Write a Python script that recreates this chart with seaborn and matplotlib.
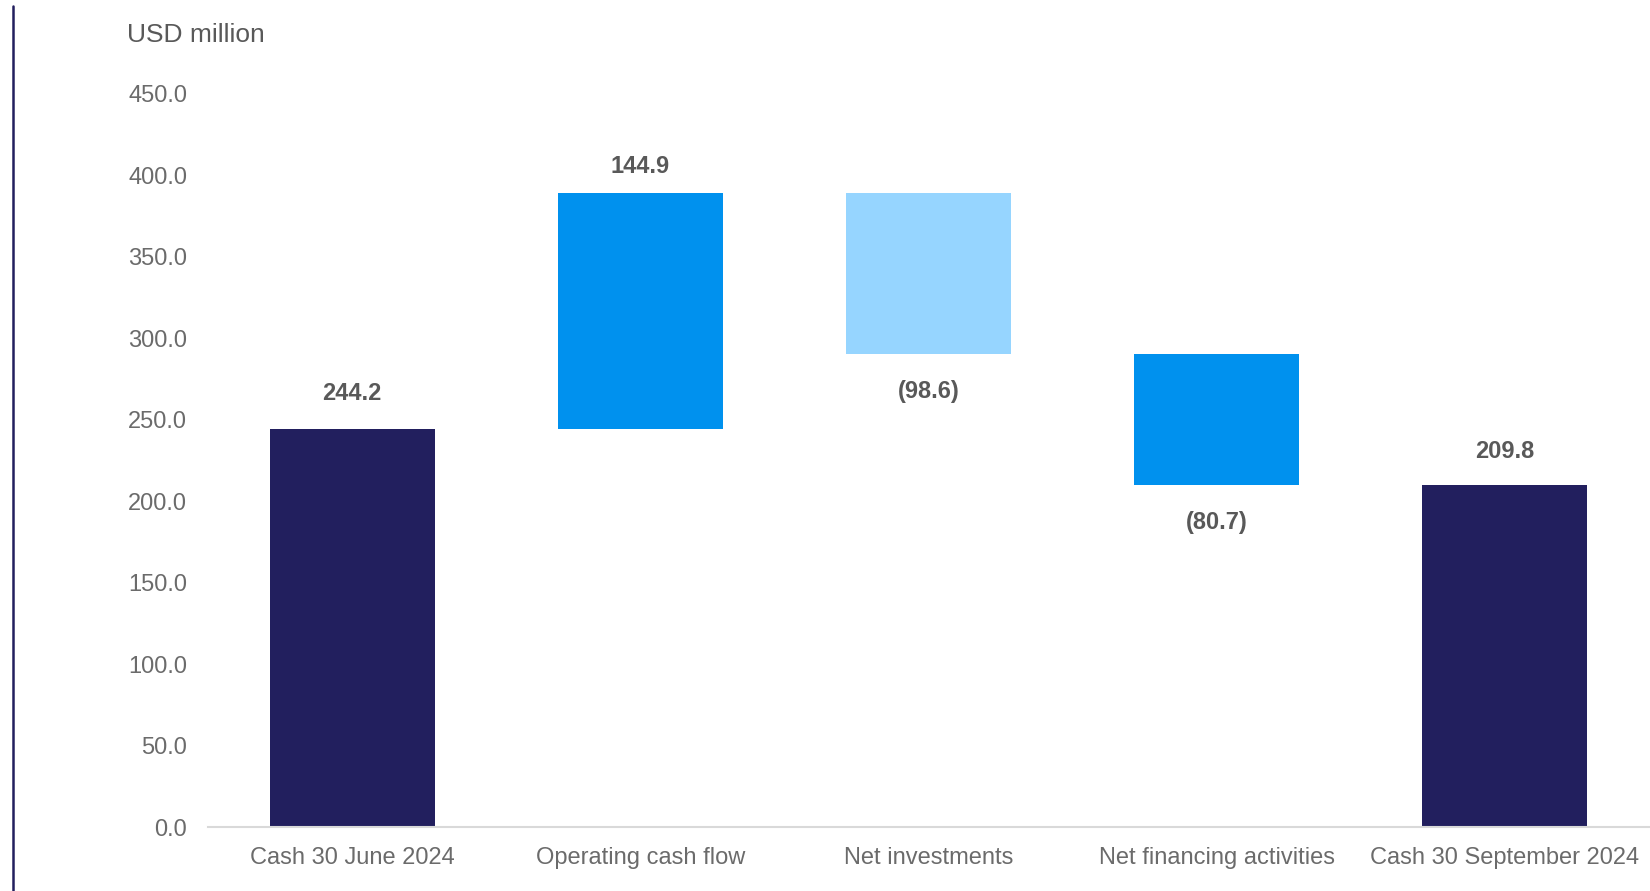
import numpy as np
import pandas as pd
import matplotlib
matplotlib.use("Agg")
import matplotlib.pyplot as plt
from matplotlib.lines import Line2D
import seaborn as sns

# Cash bridge, USD million
categories = [
    "Cash 30 June 2024",
    "Operating cash flow",
    "Net investments",
    "Net financing activities",
    "Cash 30 September 2024",
]
values = [244.2, 144.9, -98.6, -80.7, 209.8]
is_total = [True, False, False, False, True]
bar_colors = ["#221F5E", "#0091EE", "#96D5FF", "#0091EE", "#221F5E"]
y_ticks = [0, 50, 100, 150, 200, 250, 300, 350, 400, 450]

# Label distance from the bar edge, in points
label_offsets = [26, 19, 27, 27, 24]

# Waterfall geometry derived from the values
bottoms, heights = [], []
running = 0.0
for v, tot in zip(values, is_total):
    if tot:
        bottoms.append(0.0)
        heights.append(v)
        running = v
    else:
        start = running
        running = running + v
        bottoms.append(min(start, running))
        heights.append(abs(v))

df = pd.DataFrame({"category": categories, "height": heights, "bottom": bottoms})

sns.set_theme(style="white")
plt.rcParams["font.family"] = ["Liberation Sans", "DejaVu Sans"]

fig = plt.figure(figsize=(16.5, 8.91), dpi=100)
ax = fig.add_axes([208 / 1650, 1 - 827 / 891, (1649 - 208) / 1650, (827 - 94) / 891])

sns.barplot(data=df, x="category", y="height", bottom=df["bottom"].values,
            width=0.573, errorbar=None, ax=ax, color=bar_colors[0],
            saturation=1, linewidth=0)
for patch, c in zip(ax.patches, bar_colors):
    patch.set_facecolor(c)
    patch.set_edgecolor(c)

ax.set_xlim(-0.5, len(categories) - 0.5)
ax.set_ylim(0, 450)
ax.set_yticks(y_ticks)
ax.set_yticklabels([f"{t:.1f}" for t in y_ticks])
ax.set_xlabel("")
ax.set_ylabel("")

for side in ["left", "right", "top"]:
    ax.spines[side].set_visible(False)
ax.spines["bottom"].set_color("#D9D9D9")
ax.spines["bottom"].set_linewidth(1.5)

ax.tick_params(axis="y", length=0, pad=15, labelsize=17, labelcolor="#6B6B6B")
ax.tick_params(axis="x", length=0, pad=14.5, labelsize=17, labelcolor="#6B6B6B")

# Value labels: above for totals and increases, below for decreases
for i, (v, b, h, off) in enumerate(zip(values, bottoms, heights, label_offsets)):
    if v >= 0:
        txt = f"{v:.1f}"
        ax.annotate(txt, (i, b + h), xytext=(0, off), textcoords="offset points",
                    ha="center", va="center", fontsize=17, fontweight="bold",
                    color="#595959")
    else:
        txt = f"({abs(v):.1f})"
        ax.annotate(txt, (i, b), xytext=(0, -off), textcoords="offset points",
                    ha="center", va="center", fontsize=17, fontweight="bold",
                    color="#595959")

fig.text(127 / 1650, 1 - 35 / 891, "USD million", ha="left", va="center",
         fontsize=19, color="#595959")

# Vertical accent rule on the left margin
fig.add_artist(Line2D([12.5 / 1650, 12.5 / 1650], [0, 1 - 6 / 891],
                      transform=fig.transFigure, color="#221F5E", linewidth=1.8))

fig.savefig("out.png", dpi=100, facecolor="white")
